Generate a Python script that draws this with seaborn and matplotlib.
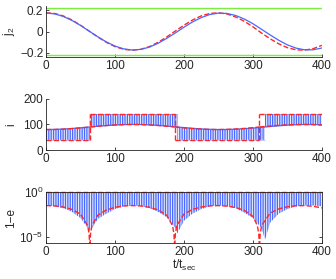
import numpy as np
import pandas as pd
import matplotlib
matplotlib.use('Agg')
import matplotlib.pyplot as plt
import seaborn as sns

# ---- panel 1: j2, model (red dashed) vs simulation (blue)
t_j2 = [0, 12.5, 25, 37.5, 50, 62.5, 75, 87.5, 100, 112.5, 125, 137.5, 150, 162.5, 175, 187.5,
        200, 212.5, 225, 237.5, 250, 262.5, 275, 287.5, 300, 312.5, 325, 337.5, 350, 362.5, 375, 387.5, 400]
j2_model = [0.175, 0.169, 0.146, 0.108, 0.059, 0.004, -0.051, -0.101, -0.141, -0.166, -0.175, -0.166,
            -0.141, -0.101, -0.051, 0.005, 0.059, 0.108, 0.146, 0.169, 0.175, 0.164, 0.136, 0.096,
            0.044, -0.014, -0.068, -0.115, -0.151, -0.171, -0.174, -0.160, -0.129]
j2_sim = [0.173, 0.165, 0.141, 0.104, 0.057, 0.004, -0.049, -0.097, -0.136, -0.162, -0.173, -0.167,
          -0.146, -0.110, -0.064, -0.013, 0.040, 0.090, 0.130, 0.159, 0.172, 0.169, 0.150, 0.117,
          0.073, 0.021, -0.032, -0.082, -0.125, -0.155, -0.171, -0.171, -0.154]
j2_limits = [0.22, -0.22]

# ---- panel 2/3: simulation (blue pulses)
t_sim = [0, 12.5, 25, 37.5, 50, 62.5, 63.5, 75, 87.5, 100, 112.5, 125, 137.5, 150, 162.5, 175, 187.5,
         190.5, 200, 212.5, 225, 237.5, 250, 262.5, 275, 287.5, 300, 312.5, 317.5, 325, 337.5, 350,
         362.5, 375, 387.5, 400]
i_sim_base = [80.1, 80.6, 82.0, 84.1, 86.8, 89.8, 90.0, 92.8, 95.5, 97.7, 99.2, 99.8, 99.5, 98.3, 96.3,
              93.7, 90.7, 90.0, 87.7, 84.9, 82.6, 80.9, 80.2, 80.4, 81.4, 83.3, 85.9, 88.8, 90.0, 91.8,
              94.7, 97.1, 98.8, 99.7, 99.7, 98.8]
log_1me_sim = [-1.5, -1.6, -1.8, -2.2, -2.9, -4.2, -4.4, -3.0, -2.4, -1.9, -1.6, -1.5, -1.55, -1.8, -2.2,
               -2.8, -4.0, -4.6, -3.2, -2.4, -1.9, -1.6, -1.5, -1.6, -1.8, -2.3, -2.9, -4.0, -5.3, -3.4,
               -2.4, -1.9, -1.6, -1.5, -1.5, -1.6]
sim_switch = [63.5, 190.5, 317.5]

# ---- panel 2/3: model (red dashed)
t_mod = [0, 12.5, 25, 37.5, 50, 62.5, 63.5, 75, 87.5, 100, 112.5, 125, 137.5, 150, 162.5, 175, 186.5,
         187.5, 200, 212.5, 225, 237.5, 250, 262.5, 275, 287.5, 300, 309.5, 312.5, 325, 337.5, 350,
         362.5, 375, 387.5, 400]
i_mod_base = [80.0, 80.4, 81.7, 83.8, 86.6, 89.7, 90.0, 92.9, 95.7, 98.0, 99.5, 100.0, 99.5, 98.0, 95.8,
              92.9, 90.0, 89.7, 86.6, 83.8, 81.7, 80.4, 80.0, 80.7, 82.2, 84.5, 87.5, 90.0, 90.8, 93.9,
              96.5, 98.6, 99.7, 99.9, 99.1, 97.4]
mod_switch = [63.5, 186.5, 309.5]

t_mod_e = [0, 12.5, 25, 37.5, 50, 60.5, 62.5, 63.2, 63.5, 63.8, 64.5, 66.5, 75, 87.5, 100, 112.5, 125,
           137.5, 150, 162.5, 175, 183.5, 185.5, 186.2, 186.5, 186.8, 187.5, 189.5, 200, 212.5, 225,
           237.5, 250, 262.5, 275, 287.5, 300, 306.5, 308.5, 309.2, 309.5, 309.8, 310.5, 312.5, 325,
           337.5, 350, 362.5, 375, 387.5, 400]
one_me_mod = [0.0306, 0.0285, 0.0212, 0.0116, 0.00348, 1.8e-4, 2.0e-5, 1.8e-6, 1e-9, 1.8e-6, 2.0e-5,
              1.8e-4, 0.00257, 0.0101, 0.0197, 0.0277, 0.0306, 0.0276, 0.0198, 0.0102, 0.00258, 1.8e-4,
              2.0e-5, 1.8e-6, 1e-9, 1.8e-6, 2.0e-5, 1.8e-4, 0.00349, 0.0116, 0.0212, 0.0285, 0.0306,
              0.0268, 0.0186, 0.00922, 0.00195, 1.8e-4, 2.0e-5, 1.8e-6, 1e-9, 1.8e-6, 2.0e-5, 1.8e-4,
              0.00458, 0.0132, 0.0227, 0.0292, 0.0303, 0.0255, 0.0167]
one_me_top = 1.0

i_levels = {'low': 40, 'high': 140}
seg_side = ['low', 'high', 'low', 'high']

blue = '#4a68ff'
red = '#ff2626'
green = '#7aee3a'

sns.set_style('ticks')
plt.rcParams['font.family'] = ['Liberation Sans', 'DejaVu Sans']
plt.rcParams['mathtext.fontset'] = 'custom'
plt.rcParams['mathtext.rm'] = 'Liberation Sans'
plt.rcParams['mathtext.it'] = 'Liberation Sans:italic'
plt.rcParams['font.size'] = 8.5
plt.rcParams['hatch.linewidth'] = 0.9
plt.rcParams['hatch.color'] = blue

fig = plt.figure(figsize=(3.36, 2.79), dpi=100)
L, W, H = 0.137, 0.821, 0.184
ax1 = fig.add_axes([L, 0.795, W, H])
ax2 = fig.add_axes([L, 0.462, W, H])
ax3 = fig.add_axes([L, 0.128, W, H])


def pulses(ax, x, lo, hi):
    ax.fill_between(x, lo, hi, facecolor=(0.55, 0.65, 1.0, 0.22), edgecolor=blue,
                    hatch='|||||||', linewidth=0)


# panel 1
for g in j2_limits:
    ax1.axhline(g, color=green, lw=1.0)
sns.lineplot(x=t_j2, y=j2_model, ax=ax1, color=red, lw=1.0, linestyle='--', sort=False)
sns.lineplot(x=t_j2, y=j2_sim, ax=ax1, color=blue, lw=0.9, sort=False)
ax1.set_ylim(-0.24, 0.24)
ax1.set_yticks([-0.2, 0, 0.2])
ax1.set_yticklabels(['\u22120.2', '0', '0.2'])
ax1.set_ylabel('j$_2$')

# panel 2
ts = np.array(t_sim)
tm = np.array(t_mod)
bs = np.array(i_sim_base)
bm = np.array(i_mod_base)
sw_s = [0] + sim_switch + [400]
sw_m = [0] + mod_switch + [400]
for k, side in enumerate(seg_side):
    lvl = i_levels[side]
    m = (ts >= sw_s[k]) & (ts <= sw_s[k + 1])
    pulses(ax2, ts[m], bs[m], lvl)
    ax2.hlines(lvl, sw_s[k], sw_s[k + 1], color=blue, lw=0.5, alpha=0.5)
sns.lineplot(x=t_sim, y=i_sim_base, ax=ax2, color=blue, lw=0.9, sort=False)
for k, side in enumerate(seg_side):
    lvl = i_levels[side]
    m = (tm >= sw_m[k]) & (tm <= sw_m[k + 1])
    ax2.plot(tm[m], bm[m], color=red, lw=1.0, ls='--')
    ax2.hlines(lvl, sw_m[k], sw_m[k + 1], color=red, lw=1.0, linestyles='--')
ax2.vlines(mod_switch, i_levels['low'], i_levels['high'], color=red, lw=1.0, linestyles='--')
ax2.set_ylim(0, 200)
ax2.set_yticks([0, 100, 200])
ax2.set_ylabel('i')

# panel 3
ax3.set_yscale('log')
pulses(ax3, t_sim, [10 ** v for v in log_1me_sim], one_me_top)
sns.lineplot(x=t_mod_e, y=one_me_mod, ax=ax3, color=red, lw=1.0, linestyle='--', sort=False)
ax3.axhline(one_me_top, color=red, lw=1.0, ls='--', clip_on=False)
ax3.set_ylim(2e-6, 1.0)
ax3.set_yticks([1e-5, 1.0])
ax3.set_yticklabels(['$10^{-5}$', '$10^{0}$'])
ax3.minorticks_off()
ax3.set_ylabel('1\u2212e')
ax3.set_xlabel('t/t$_{\\mathrm{sec}}$', labelpad=0)

for ax in (ax1, ax2, ax3):
    ax.set_xlim(0, 400)
    ax.set_xticks([0, 100, 200, 300, 400])
    ax.tick_params(direction='in', length=2.5, width=0.6, labelsize=8.5, pad=2,
                   right=(ax is ax3), top=False)
    ax.yaxis.set_label_coords(-0.105, 0.5)
    for s in ax.spines.values():
        s.set_linewidth(0.6)
        s.set_color('#222222')
    if ax is not ax3:
        ax.spines['top'].set_visible(False)
        ax.spines['right'].set_visible(False)
ax1.set_xlabel('')
ax2.set_xlabel('')

fig.savefig('out.png', dpi=100)
